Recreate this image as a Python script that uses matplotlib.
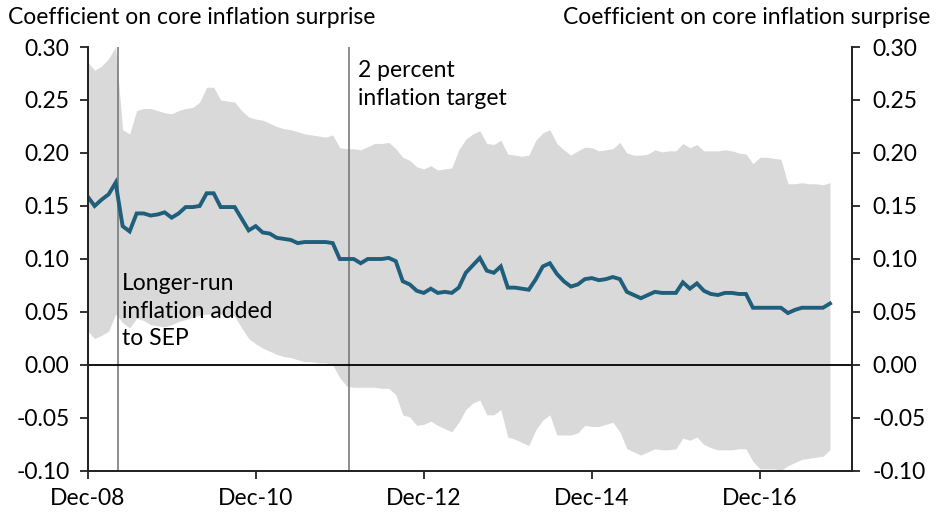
import numpy as np
import matplotlib
matplotlib.use("Agg")
import matplotlib.pyplot as plt

plt.rcParams['font.family'] = ['Lato', 'DejaVu Sans']

# Monthly observations starting Dec-2008 (month index 0)
core = [0.159, 0.150, 0.156, 0.161, 0.172, 0.131, 0.126, 0.143, 0.143, 0.141,
        0.142, 0.144, 0.139, 0.143, 0.149, 0.149, 0.150, 0.162, 0.162, 0.149,
        0.149, 0.149, 0.138, 0.127, 0.131, 0.125, 0.124, 0.120, 0.119, 0.118,
        0.115, 0.116, 0.116, 0.116, 0.116, 0.115, 0.100, 0.100, 0.100, 0.096,
        0.100, 0.100, 0.100, 0.101, 0.098, 0.079, 0.076, 0.070, 0.068, 0.072,
        0.068, 0.069, 0.068, 0.073, 0.087, 0.094, 0.101, 0.089, 0.087, 0.093,
        0.073, 0.073, 0.072, 0.071, 0.081, 0.093, 0.096, 0.086, 0.079, 0.074,
        0.076, 0.081, 0.082, 0.080, 0.081, 0.083, 0.081, 0.069, 0.066, 0.063,
        0.066, 0.069, 0.068, 0.068, 0.068, 0.078, 0.072, 0.077, 0.070, 0.067,
        0.066, 0.068, 0.068, 0.067, 0.067, 0.054, 0.054, 0.054, 0.054, 0.054,
        0.049, 0.052, 0.054, 0.054, 0.054, 0.054, 0.058]

upper = [0.286, 0.278, 0.282, 0.289, 0.300, 0.222, 0.218, 0.240, 0.242, 0.242,
         0.240, 0.238, 0.237, 0.240, 0.242, 0.243, 0.248, 0.262, 0.262, 0.250,
         0.249, 0.248, 0.240, 0.234, 0.232, 0.231, 0.228, 0.225, 0.223, 0.222,
         0.220, 0.218, 0.217, 0.216, 0.215, 0.217, 0.205, 0.204, 0.204, 0.203,
         0.206, 0.209, 0.209, 0.210, 0.204, 0.196, 0.193, 0.187, 0.185, 0.188,
         0.184, 0.185, 0.186, 0.203, 0.213, 0.218, 0.221, 0.209, 0.208, 0.212,
         0.199, 0.198, 0.197, 0.198, 0.212, 0.219, 0.222, 0.209, 0.203, 0.198,
         0.202, 0.2055, 0.205, 0.202, 0.203, 0.204, 0.210, 0.200, 0.198, 0.198,
         0.199, 0.203, 0.201, 0.202, 0.202, 0.209, 0.205, 0.208, 0.202, 0.202,
         0.202, 0.203, 0.202, 0.200, 0.199, 0.190, 0.196, 0.196, 0.195, 0.194,
         0.171, 0.171, 0.172, 0.171, 0.171, 0.170, 0.172]

lower = [0.032, 0.025, 0.028, 0.032, 0.048, 0.040, 0.035, 0.044, 0.042, 0.038,
         0.037, 0.036, 0.038, 0.041, 0.043, 0.045, 0.047, 0.048, 0.048, 0.048,
         0.047, 0.046, 0.035, 0.025, 0.020, 0.016, 0.013, 0.010, 0.008, 0.007,
         0.005, 0.003, 0.003, 0.002, 0.002, 0.000, -0.012, -0.020, -0.021, -0.021,
         -0.021, -0.021, -0.022, -0.022, -0.028, -0.047, -0.049, -0.057, -0.056, -0.053,
         -0.057, -0.060, -0.063, -0.054, -0.042, -0.036, -0.033, -0.047, -0.047, -0.042,
         -0.068, -0.070, -0.073, -0.076, -0.061, -0.052, -0.047, -0.066, -0.066, -0.066,
         -0.064, -0.057, -0.058, -0.058, -0.056, -0.054, -0.063, -0.079, -0.082, -0.085,
         -0.082, -0.079, -0.080, -0.080, -0.079, -0.069, -0.071, -0.068, -0.075, -0.078,
         -0.080, -0.080, -0.080, -0.079, -0.079, -0.091, -0.098, -0.098, -0.098, -0.0995,
         -0.095, -0.092, -0.089, -0.088, -0.087, -0.086, -0.080]

tick_months = [0, 24, 48, 72, 96]
tick_labels = ["Dec-08", "Dec-10", "Dec-12", "Dec-14", "Dec-16"]
y_ticks = [-0.10, -0.05, 0.00, 0.05, 0.10, 0.15, 0.20, 0.25, 0.30]
event_months = [4.35, 37.35]
event_labels = ["Longer-run\ninflation added\nto SEP", "2 percent\ninflation target"]
axis_title = "Coefficient on core inflation surprise"

FS = 16.5
x = np.arange(len(core))

fig = plt.figure(figsize=(9.39, 5.12), dpi=100)
ax = fig.add_axes([0.0933, 0.0801, 0.9070 - 0.0933, 0.9082 - 0.0801])

ax.fill_between(x, lower, upper, color="#d9d9d9", linewidth=0, zorder=1)
for m in event_months:
    ax.axvline(m, color="#7a7a7a", linewidth=1.2, zorder=2)
ax.axhline(0, color="black", linewidth=1.3, zorder=3)
ax.plot(x, core, color="#1f5f7b", linewidth=2.8, solid_joinstyle="miter", zorder=4)

ax.set_xlim(0, 109.1)
ax.set_ylim(-0.10, 0.30)
ax.set_xticks(tick_months)
ax.set_xticklabels(tick_labels)
ax.set_yticks(y_ticks)
ax.set_yticklabels([f"{v:.2f}" for v in y_ticks])

ax2 = ax.twinx()
ax2.set_ylim(-0.10, 0.30)
ax2.set_yticks(y_ticks)
ax2.set_yticklabels([f"{v:.2f}" for v in y_ticks])

for a in (ax, ax2):
    a.spines["top"].set_visible(False)
    for s in ["left", "right", "bottom"]:
        a.spines[s].set_linewidth(1.3)
        a.spines[s].set_color("#222222")

ax.tick_params(axis="y", direction="out", length=6, width=1.3,
               labelsize=FS, pad=7, color="#222222")
ax2.tick_params(axis="y", direction="out", length=6, width=1.3,
                labelsize=FS, pad=9, color="#222222")
ax.tick_params(axis="x", direction="out", length=6, width=1.3, labelsize=FS,
               pad=6, color="#222222")

ax.text(event_months[0] + 0.5, 0.087, event_labels[0], fontsize=FS,
        va="top", ha="left", linespacing=1.4, zorder=5)
ax.text(event_months[1] + 1.3, 0.288, event_labels[1], fontsize=FS,
        va="top", ha="left", linespacing=1.4, zorder=5)

fig.text(8 / 939, 1 - 17 / 512, axis_title, fontsize=FS, ha="left", va="center")
fig.text(930 / 939, 1 - 17 / 512, axis_title, fontsize=FS, ha="right", va="center")

fig.savefig("out.png", dpi=100)
